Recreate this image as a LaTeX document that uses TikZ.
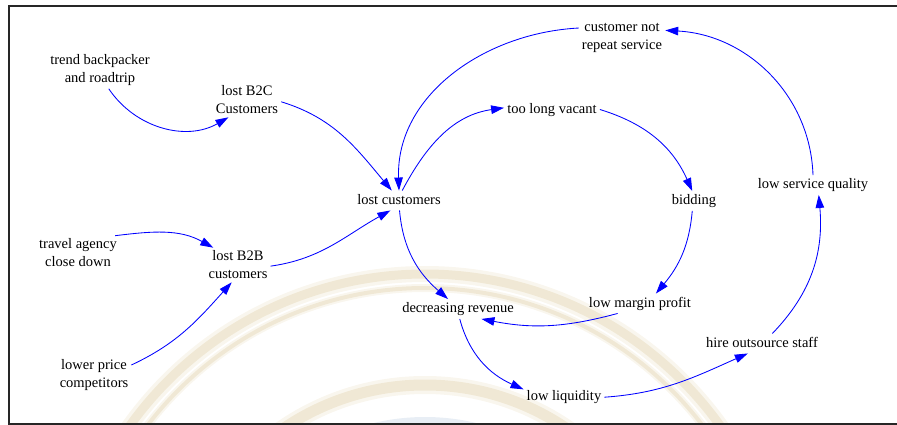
\documentclass[tikz,border=0pt]{standalone}
\usepackage{fontspec}
\setmainfont{Liberation Serif}
\usetikzlibrary{arrows.meta}
\definecolor{sealtan}{RGB}{222,204,160}
\definecolor{sealblue}{RGB}{190,206,226}
\begin{document}
\begin{tikzpicture}[x=1pt,y=-1pt,
  var/.style={inner sep=3pt, align=center, font=\fontsize{14.5}{18}\selectfont},
  one/.style={var, text height=10.5pt, text depth=3pt},
  link/.style={draw=blue, line width=0.85pt, -{Triangle[length=13pt,width=8.5pt]}},
  ring/.style={draw=sealtan}
]
\useasboundingbox (0,0) rectangle (897,425);

% faint seal in the background
\begin{scope}
  \clip (9,6) rectangle (897,425);
  \fill[sealblue, opacity=.35] (425,637) circle[radius=220];
  \foreach \r/\wa/\wb in {363/16/9, 349/8/4, 252/18/11} {
    \draw[ring, opacity=.18, line width=\wa pt] (425,637) circle[radius=\r];
    \draw[ring, opacity=.32, line width=\wb pt] (425,637) circle[radius=\r];
  }
\end{scope}

% frame
\draw[line width=1.6pt, black!85] (9,6) rectangle (912,424);

% variables
\node[var] (trend) at (100,70)    {trend backpacker\\and roadtrip};
\node[var] (b2c)   at (247,100)   {lost B2C\\Customers};
\node[one] (lc)    at (399,200.5) {lost customers};
\node[var] (cnr)   at (622,38)    {customer not\\repeat service};
\node[one] (tlv)   at (552,109.5) {too long vacant};
\node[one] (bid)   at (694,201)   {bidding};
\node[one] (lsq)   at (813,185)   {low service quality};
\node[var] (tra)   at (78,253)    {travel agency\\close down};
\node[var] (b2b)   at (238,265)   {lost B2B\\customers};
\node[var] (lpc)   at (94,375)    {lower price\\competitors};
\node[one] (dr)    at (458,309)   {decreasing revenue};
\node[one] (lmp)   at (640,303.5) {low margin profit};
\node[one] (hos)   at (762,343.5) {hire outsource staff};
\node[one] (ll)    at (564,396.5) {low liquidity};

% causal links
\draw[link] (trend.-65) to[out=-56,in=210] (b2c.223);
\draw[link] (b2c.-3)    to[out=-17,in=130] (lc.126);
\draw[link] (cnr.167)   to[out=183,in=92]  (lc.90);
\draw[link] (lc.72)     to[out=62,in=188]  (tlv.178);
\draw[link] (tlv.0)     to[out=-17,in=114] (bid.100);
\draw[link] (bid.-100)  to[out=-95,in=50]  (lmp.32);
\draw[link] (lmp.204)   to[out=195,in=349] (dr.-23);
\draw[link] (lc.-87)    to[out=-85,in=139] (dr.135);
\draw[link] (dr.-80)    to[out=-75,in=156] (ll.170);
\draw[link] (ll.-1)     to[out=4,in=204]   (hos.215);
\draw[link] (hos.44)    to[out=46,in=-85]  (lsq.-60);
\draw[link] (lsq.90)    to[out=92,in=-3]   (cnr.10);
\draw[link] (tra.25)    to[out=7,in=151]   (b2b.145);
\draw[link] (lpc.15)    to[out=25,in=228]  (b2b.-110);
\draw[link] (b2b.-2)    to[out=8,in=209]   (lc.229);
\end{tikzpicture}
\end{document}
